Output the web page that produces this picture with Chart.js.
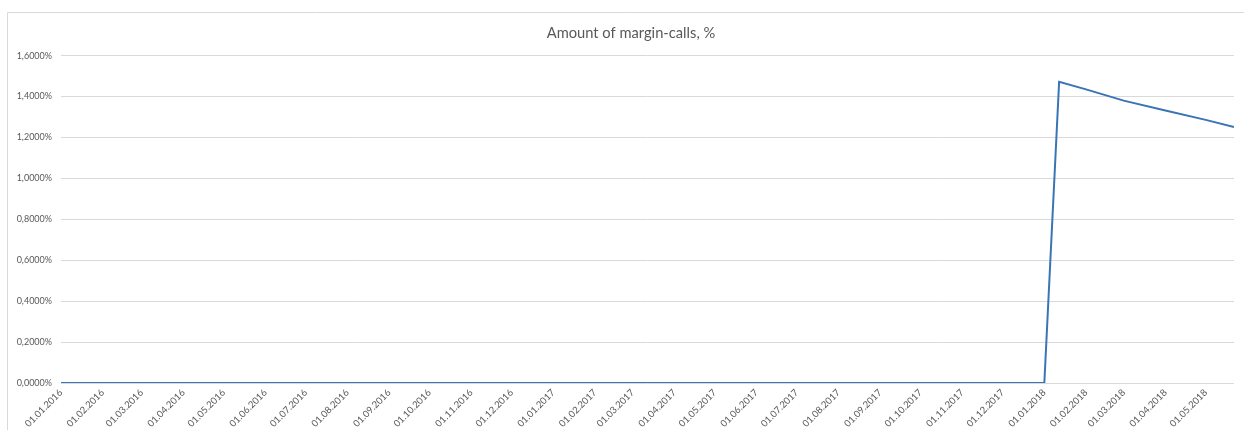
<!DOCTYPE html>
<html>
<head>
<meta charset="utf-8">
<script src="https://cdn.jsdelivr.net/npm/chart.js@4/dist/chart.umd.min.js"></script>
<style>
html,body{margin:0;padding:0;background:#fff;}
#wrap{position:relative;width:1244px;height:430px;overflow:hidden;}
canvas{display:block;}
</style>
</head>
<body>
<div id="wrap"><canvas id="c" width="1244" height="430"></canvas></div>
<script>
// Data
const titleText = 'Amount of margin-calls, %';
const pointDates = [
  '01.01.2016','01.02.2016','01.03.2016','01.04.2016','01.05.2016','01.06.2016',
  '01.07.2016','01.08.2016','01.09.2016','01.10.2016','01.11.2016','01.12.2016',
  '01.01.2017','01.02.2017','01.03.2017','01.04.2017','01.05.2017','01.06.2017',
  '01.07.2017','01.08.2017','01.09.2017','01.10.2017','01.11.2017','01.12.2017',
  '01.01.2018','12.01.2018','01.02.2018','01.03.2018','01.04.2018','01.05.2018','22.05.2018'
];
const marginCallsPct = [
  0,0,0,0,0,0,
  0,0,0,0,0,0,
  0,0,0,0,0,0,
  0,0,0,0,0,0,
  0,1.472,1.435,1.380,1.332,1.286,1.251
];
const xTickLabels = [
  '01.01.2016','01.02.2016','01.03.2016','01.04.2016','01.05.2016','01.06.2016',
  '01.07.2016','01.08.2016','01.09.2016','01.10.2016','01.11.2016','01.12.2016',
  '01.01.2017','01.02.2017','01.03.2017','01.04.2017','01.05.2017','01.06.2017',
  '01.07.2017','01.08.2017','01.09.2017','01.10.2017','01.11.2017','01.12.2017',
  '01.01.2018','01.02.2018','01.03.2018','01.04.2018','01.05.2018'
];
const yTickValues = [0,0.2,0.4,0.6,0.8,1.0,1.2,1.4,1.6];

// helpers: date string -> day number since 01.01.2016
function dayNum(s){
  const [d,m,y] = s.split('.').map(Number);
  return (Date.UTC(y,m-1,d) - Date.UTC(2016,0,1)) / 86400000;
}
const points = pointDates.map((d,i)=>({x:dayNum(d), y:marginCallsPct[i]}));
const tickDays = xTickLabels.map(dayNum);
const labelByDay = {};
xTickLabels.forEach((l,i)=>{labelByDay[tickDays[i]] = l;});

const borderPlugin = {
  id:'outerBorder',
  afterLayout(chart){
    // let the y tick labels use the space left of the axis box
    chart.scales.y.left = 0;
  },
  beforeDraw(chart){
    const ctx = chart.ctx;
    ctx.save();
    ctx.strokeStyle = '#d9d9d9';
    ctx.lineWidth = 1;
    ctx.beginPath();
    ctx.moveTo(7.5, 431);
    ctx.lineTo(7.5, 12.5);
    ctx.lineTo(1244, 12.5);
    ctx.stroke();
    ctx.restore();
  }
};

new Chart(document.getElementById('c'), {
  type:'line',
  data:{
    datasets:[{
      label:'Margin-calls',
      data:points,
      borderColor:'#3a74b5',
      borderWidth:2,
      pointRadius:0,
      tension:0,
      fill:false
    }]
  },
  options:{
    responsive:false,
    animation:false,
    events:[],
    layout:{padding:{top:12, right:10, left:28, bottom:0}},
    plugins:{
      legend:{display:false},
      tooltip:{enabled:false},
      title:{
        display:true,
        text:titleText,
        color:'#595959',
        font:{family:'Lato, "Open Sans", sans-serif', size:14.7, weight:'normal'},
        padding:{top:12, bottom:14}
      }
    },
    scales:{
      x:{
        type:'linear',
        min:tickDays[0],
        max:dayNum(pointDates[pointDates.length-1]),
        afterBuildTicks(scale){
          scale.ticks = tickDays.map(v=>({value:v}));
        },
        afterFit(scale){ scale.height = 47; },
        grid:{display:false, drawTicks:false},
        border:{display:false},
        ticks:{
          autoSkip:false,
          minRotation:45,
          maxRotation:45,
          padding:4,
          color:'#595959',
          font:{family:'Lato, "Open Sans", sans-serif', size:9.5},
          callback(v){ return labelByDay[v] || ''; }
        }
      },
      y:{
        min:0,
        max:1.6,
        afterBuildTicks(scale){
          scale.ticks = yTickValues.map(v=>({value:v}));
        },
        afterFit(scale){ scale.width = 33; },
        grid:{color:'#d9d9d9', lineWidth:1, drawTicks:false},
        border:{display:false},
        ticks:{
          padding:9,
          color:'#595959',
          font:{family:'Lato, "Open Sans", sans-serif', size:9},
          callback(v){ return v.toFixed(4).replace('.',',') + '%'; }
        }
      }
    }
  },
  plugins:[borderPlugin]
});
</script>
</body>
</html>
